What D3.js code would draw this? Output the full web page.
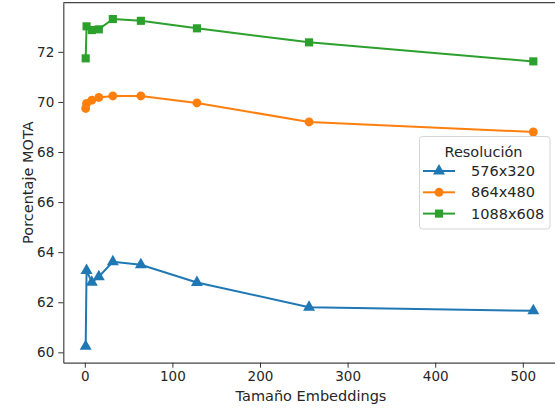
<!DOCTYPE html>
<html>
<head>
<meta charset="utf-8">
<script src="https://cdn.jsdelivr.net/npm/d3@7"></script>
<style>
  body { margin: 0; background: #fff; }
  text { font-family: "DejaVu Sans", sans-serif; fill: #262626; }
</style>
</head>
<body>
<svg id="chart" width="555" height="409"></svg>
<script>
// embedding sizes (x)
const sizes = [1, 2, 8, 16, 32, 64, 128, 256, 512];
// MOTA per resolution
const res576 = [60.24, 63.27, 62.80, 63.02, 63.62, 63.50, 62.79, 61.80, 61.66];
const res864 = [69.74, 69.94, 70.07, 70.18, 70.24, 70.24, 69.96, 69.20, 68.80];
const res1088 = [71.74, 73.02, 72.87, 72.90, 73.31, 73.24, 72.94, 72.38, 71.62];
const seriesNames = ["576x320", "864x480", "1088x608"];
const xTicks = [0, 100, 200, 300, 400, 500];
const yTicks = [60, 62, 64, 66, 68, 70, 72];

const margin = { top: 2.7, right: -0.7, bottom: 46.3, left: 63.3 };
const width = 555, height = 409;

const svg = d3.select("#chart");

const series = [
    { name: seriesNames[0], values: res576, color: "#1f77b4", symbol: d3.symbolTriangle, size: 62 },
    { name: seriesNames[1], values: res864, color: "#ff7f0e", symbol: d3.symbolCircle, size: 62 },
    { name: seriesNames[2], values: res1088, color: "#2ca02c", symbol: d3.symbolSquare, size: 66 }
];

// matplotlib style 5% padding
const pad = (ext) => { let s = ext[1] - ext[0]; return [ext[0] - s * 0.05, ext[1] + s * 0.05]; };
const allY = res576.concat(res864, res1088);

const x = d3.scaleLinear()
    .domain(pad(d3.extent(sizes)))
    .range([margin.left, width - margin.right]);
const y = d3.scaleLinear()
    .domain(pad(d3.extent(allY)))
    .range([height - margin.bottom, margin.top]);

// axes
const xAxis = svg.append("g")
    .attr("transform", `translate(0,${height - margin.bottom})`)
    .call(d3.axisBottom(x).tickValues(xTicks).tickSize(5).tickPadding(4).tickSizeOuter(0));
const yAxis = svg.append("g")
    .attr("transform", `translate(${margin.left},0)`)
    .call(d3.axisLeft(y).tickValues(yTicks).tickSize(5).tickPadding(4).tickSizeOuter(0));

[xAxis, yAxis].forEach(a => {
    a.selectAll("text").style("font-size", "13.5px").style("font-family", "DejaVu Sans, sans-serif").attr("fill", "#262626");
    a.selectAll("line").attr("stroke", "#333");
    a.select(".domain").attr("stroke", "#444").attr("stroke-width", 1.2);
});

// top spine (right spine falls outside the image)
svg.append("line")
    .attr("x1", margin.left).attr("x2", width)
    .attr("y1", margin.top).attr("y2", margin.top)
    .attr("stroke", "#444").attr("stroke-width", 1.2);

// axis labels
svg.append("text")
    .attr("x", 311).attr("y", 401)
    .attr("text-anchor", "middle")
    .style("font-size", "14.5px")
    .text("Tamaño Embeddings");
svg.append("text")
    .attr("transform", `translate(33,${(margin.top + height - margin.bottom) / 2}) rotate(-90)`)
    .attr("text-anchor", "middle")
    .style("font-size", "14.5px")
    .text("Porcentaje MOTA");

// lines and markers
const line = d3.line()
    .x((d, i) => x(sizes[i]))
    .y(d => y(d));

series.forEach(s => {
    svg.append("path")
        .datum(s.values)
        .attr("d", line)
        .attr("fill", "none")
        .attr("stroke", s.color)
        .attr("stroke-width", 2);
    svg.selectAll(null)
        .data(s.values)
        .enter().append("path")
        .attr("d", d3.symbol().type(s.symbol).size(s.size))
        .attr("transform", (d, i) => `translate(${x(sizes[i])},${y(d)})`)
        .attr("fill", s.color);
});

// legend
const legend = svg.append("g");
legend.append("rect")
    .attr("x", 419.5).attr("y", 136.5)
    .attr("width", 130.5).attr("height", 92.5)
    .attr("rx", 3)
    .attr("fill", "#fff").attr("fill-opacity", 0.8)
    .attr("stroke", "#d5d5d5");
legend.append("text")
    .attr("x", 483.5).attr("y", 157)
    .attr("text-anchor", "middle")
    .style("font-size", "14.5px")
    .text("Resolución");
series.forEach((s, i) => {
    const ly = 171 + i * 21.3;
    legend.append("line")
        .attr("x1", 423).attr("x2", 455)
        .attr("y1", ly).attr("y2", ly)
        .attr("stroke", s.color).attr("stroke-width", 2);
    legend.append("path")
        .attr("d", d3.symbol().type(s.symbol).size(s.size))
        .attr("transform", `translate(439,${ly})`)
        .attr("fill", s.color);
    legend.append("text")
        .attr("x", 471).attr("y", ly + 5)
        .style("font-size", "14.5px")
        .text(s.name);
});
</script>
</body>
</html>
